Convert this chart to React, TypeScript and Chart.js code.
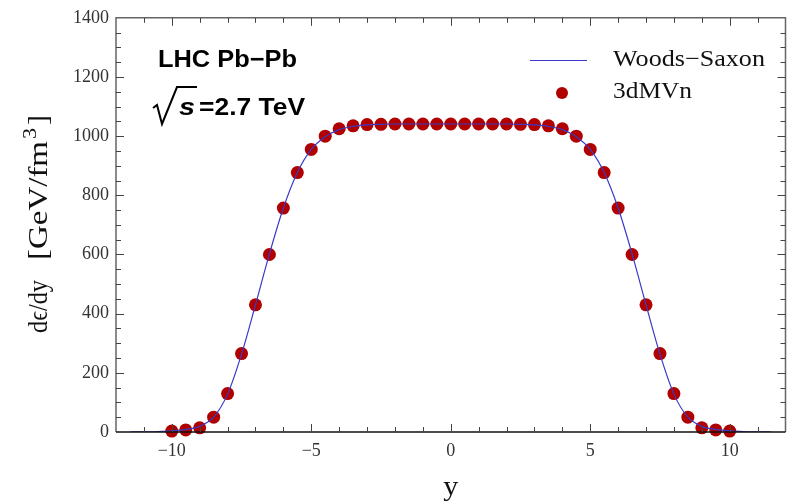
import React, { useEffect, useRef } from "react";
import { Chart, registerables } from "chart.js";

Chart.register(...registerables);

// ---- data ----
const pointX = [
  -10, -9.5, -9, -8.5, -8, -7.5, -7, -6.5, -6, -5.5, -5, -4.5, -4, -3.5, -3, -2.5, -2, -1.5, -1, -0.5,
  0, 0.5, 1, 1.5, 2, 2.5, 3, 3.5, 4, 4.5, 5, 5.5, 6, 6.5, 7, 7.5, 8, 8.5, 9, 9.5, 10,
];
const pointY = [
  3, 7, 14, 50, 130, 265, 430, 600, 757, 877, 955, 1000, 1025, 1035, 1039, 1040, 1041, 1041, 1041, 1041,
  1041, 1041, 1041, 1041, 1041, 1040, 1039, 1035, 1025, 1000, 955, 877, 757, 600, 430, 265, 130, 50, 14, 7, 3,
];
const curveX = [
  -11.5, -11, -10.5, -10, -9.5, -9, -8.5, -8, -7.5, -7, -6.5, -6, -5.5, -5, -4.5, -4, -3.5, -3, -2.5, -2,
  -1.5, -1, -0.5, 0, 0.5, 1, 1.5, 2, 2.5, 3, 3.5, 4, 4.5, 5, 5.5, 6, 6.5, 7, 7.5, 8, 8.5, 9, 9.5, 10,
  10.5, 11, 11.5,
];
const curveY = [
  0, 0.6, 1.6, 4, 9, 19, 50, 128, 263, 430, 602, 757, 877, 955, 998, 1022, 1033, 1038, 1040, 1041,
  1041, 1041, 1041, 1041, 1041, 1041, 1041, 1041, 1040, 1038, 1033, 1022, 998, 955, 877, 757, 602, 430,
  263, 128, 50, 19, 9, 4, 1.6, 0.6, 0,
];
const xMajorTicks = [-10, -5, 0, 5, 10];
const xMinorTicks = [-11, -9, -8, -7, -6, -4, -3, -2, -1, 1, 2, 3, 4, 6, 7, 8, 9, 11];
const yMajorTicks = [0, 200, 400, 600, 800, 1000, 1200, 1400];
const yMinorTicks = [50, 100, 150, 250, 300, 350, 450, 500, 550, 650, 700, 750, 850, 900, 950, 1050, 1100, 1150, 1250, 1300, 1350];
const legendLabels = ["Woods\u2212Saxon", "3dMVn"];
const annotationTitle = "LHC Pb\u2212Pb";
const annotationS = "s";
const annotationEnergy = "=2.7 TeV";
const xTitle = "y";
const yTitleMain = "d\u03f5/dy";
const yTitleUnit = "[GeV/fm";
const yTitleSup = "3";
const yTitleClose = "]";

const LINE_COLOR = "#3a3ac8";
const POINT_COLOR = "#b00000";

function fmtTick(v: number): string {
  return v < 0 ? "\u2212" + String(-v) : String(v);
}

function fitText(
  ctx: CanvasRenderingContext2D,
  text: string,
  x: number,
  y: number,
  font: string,
  width: number,
  align: CanvasTextAlign = "left",
  color = "#000"
) {
  ctx.save();
  ctx.font = font;
  const w = ctx.measureText(text).width || 1;
  ctx.translate(x, y);
  ctx.scale(width / w, 1);
  ctx.textAlign = align;
  ctx.textBaseline = "alphabetic";
  ctx.fillStyle = color;
  ctx.fillText(text, 0, 0);
  ctx.restore();
}

const framePlugin = {
  id: "framePlugin",
  afterDraw(chart: any) {
    const ctx: CanvasRenderingContext2D = chart.ctx;
    const { left, right, top, bottom } = chart.chartArea;
    const xs = chart.scales.x;
    const ys = chart.scales.y;
    ctx.save();
    // frame
    ctx.strokeStyle = "#666";
    ctx.lineWidth = 1.5;
    ctx.beginPath();
    ctx.moveTo(left, bottom);
    ctx.lineTo(left, top);
    ctx.lineTo(right, top);
    ctx.lineTo(right, bottom);
    ctx.stroke();
    ctx.strokeStyle = "#111";
    ctx.beginPath();
    ctx.moveTo(left, bottom);
    ctx.lineTo(right, bottom);
    ctx.stroke();

    // ticks (inward)
    ctx.lineWidth = 1;
    ctx.strokeStyle = "#444";
    const tickX = (vals: number[], len: number) => {
      vals.forEach((v) => {
        const px = Math.round(xs.getPixelForValue(v)) + 0.5;
        ctx.beginPath();
        ctx.moveTo(px, bottom);
        ctx.lineTo(px, bottom - len);
        ctx.moveTo(px, top);
        ctx.lineTo(px, top + len);
        ctx.stroke();
      });
    };
    const tickY = (vals: number[], len: number) => {
      vals.forEach((v) => {
        const py = Math.round(ys.getPixelForValue(v)) + 0.5;
        ctx.beginPath();
        ctx.moveTo(left, py);
        ctx.lineTo(left + len, py);
        ctx.moveTo(right, py);
        ctx.lineTo(right - len, py);
        ctx.stroke();
      });
    };
    tickX(xMajorTicks, 8);
    tickX(xMinorTicks, 5);
    tickY(yMajorTicks.slice(1, -1), 8);
    tickY(yMinorTicks, 5);

    // axis titles
    fitText(ctx, xTitle, (left + right) / 2, 495, "27px 'Liberation Serif'", 15, "center", "#111");
    ctx.save();
    ctx.translate(47, 333);
    ctx.rotate(-Math.PI / 2);
    fitText(ctx, yTitleMain, 0, 0, "27px 'Liberation Serif'", 53, "left", "#111");
    fitText(ctx, yTitleUnit, 73, 0, "27px 'Liberation Serif'", 119, "left", "#111");
    fitText(ctx, yTitleSup, 194, -11, "19px 'Liberation Serif'", 11, "left", "#111");
    fitText(ctx, yTitleClose, 208, 0, "27px 'Liberation Serif'", 10, "left", "#111");
    ctx.restore();

    // annotation
    fitText(ctx, annotationTitle, 158, 67, "bold 24px 'Liberation Sans'", 139, "left", "#000");
    ctx.strokeStyle = "#000";
    ctx.lineWidth = 2;
    ctx.lineJoin = "miter";
    ctx.beginPath();
    ctx.moveTo(153, 108);
    ctx.lineTo(157, 105);
    ctx.lineTo(162, 124);
    ctx.lineTo(177, 87);
    ctx.lineTo(197, 87);
    ctx.stroke();
    fitText(ctx, annotationS, 179, 115, "italic bold 24px 'Liberation Sans'", 16, "left", "#000");
    fitText(ctx, annotationEnergy, 199, 115, "bold 23px 'Liberation Sans'", 106, "left", "#000");

    // legend
    ctx.strokeStyle = LINE_COLOR;
    ctx.lineWidth = 1.2;
    ctx.beginPath();
    ctx.moveTo(530, 60.5);
    ctx.lineTo(587, 60.5);
    ctx.stroke();
    ctx.fillStyle = POINT_COLOR;
    ctx.beginPath();
    ctx.arc(562, 93, 6, 0, Math.PI * 2);
    ctx.fill();
    fitText(ctx, legendLabels[0], 613, 66, "23px 'Liberation Serif'", 152, "left", "#111");
    fitText(ctx, legendLabels[1], 613, 98, "23px 'Liberation Serif'", 79, "left", "#111");
    ctx.restore();
  },
};

export default function App() {
  const ref = useRef<HTMLCanvasElement | null>(null);
  useEffect(() => {
    const canvas = ref.current;
    if (!canvas) return;
    const chart = new Chart(canvas, {
      type: "scatter",
      data: {
        datasets: [
          {
            label: legendLabels[0],
            data: curveX.map((x, i) => ({ x, y: curveY[i] })),
            showLine: true,
            borderColor: LINE_COLOR,
            borderWidth: 1.2,
            pointRadius: 0,
            cubicInterpolationMode: "monotone",
            fill: false,
            order: 0,
          } as any,
          {
            label: legendLabels[1],
            data: pointX.map((x, i) => ({ x, y: pointY[i] })),
            backgroundColor: POINT_COLOR,
            borderWidth: 0,
            pointRadius: 6.5,
            clip: false,
            order: 1,
          } as any,
        ],
      },
      options: {
        animation: false,
        responsive: false,
        layout: { padding: { top: 15, right: 3, left: 0, bottom: 0 } },
        plugins: { legend: { display: false }, tooltip: { enabled: false } },
        scales: {
          x: {
            type: "linear",
            min: -12,
            max: 12,
            afterFit: (s: any) => {
              s.height = 72;
            },
            afterBuildTicks: (s: any) => {
              s.ticks = xMajorTicks.map((v) => ({ value: v }));
            },
            grid: { display: false, drawTicks: false },
            border: { display: false },
            ticks: {
              padding: 8,
              maxRotation: 0,
              font: { family: "'Liberation Serif'", size: 18 },
              color: "#333",
              callback: (v: any) => fmtTick(Number(v)),
            },
          },
          y: {
            type: "linear",
            min: 0,
            max: 1400,
            afterFit: (s: any) => {
              s.width = 116;
            },
            afterBuildTicks: (s: any) => {
              s.ticks = yMajorTicks.map((v) => ({ value: v }));
            },
            grid: { display: false, drawTicks: false },
            border: { display: false },
            ticks: {
              padding: 7,
              font: { family: "'Liberation Serif'", size: 18 },
              color: "#333",
              callback: (v: any) => String(v),
            },
          },
        },
      } as any,
      plugins: [framePlugin],
    });
    return () => chart.destroy();
  }, []);
  return (
    <div style={{ position: "absolute", left: 0, top: 0, width: 792, height: 504, background: "#fff" }}>
      <canvas ref={ref} width={792} height={504} />
    </div>
  );
}
